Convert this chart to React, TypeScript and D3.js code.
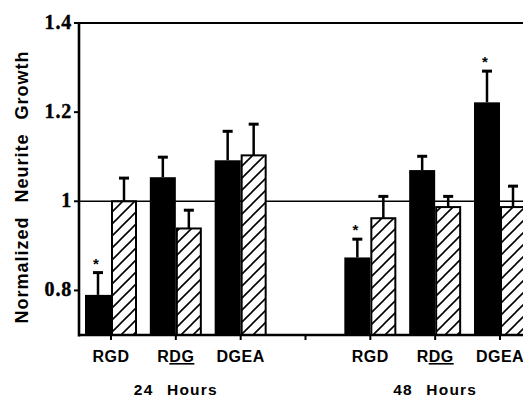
import React from 'react';
import * as d3 from 'd3';

const categories = ['RGD', 'RDG', 'DGEA'];
const groups = ['24 Hours', '48 Hours'];
const yTicks = [0.8, 1, 1.2, 1.4];

// solid bars
const solid24 = [0.79, 1.054, 1.092];
const solidErr24 = [0.05, 0.045, 0.065];
const solid48 = [0.874, 1.07, 1.222];
const solidErr48 = [0.041, 0.031, 0.07];

// hatched bars
const hatch24 = [1.0, 0.939, 1.103];
const hatchErr24 = [0.052, 0.041, 0.07];
const hatch48 = [0.962, 0.987, 0.987];
const hatchErr48 = [0.049, 0.024, 0.047];

// significance marks on solid bars
const starred24 = [true, false, false];
const starred48 = [true, false, true];

const W = 523;
const H = 397;

export default function App() {
  const left = 79;
  const top = 23;
  const base = 335;

  const slots = ['24-0', '24-1', '24-2', 'gap', '48-0', '48-1', '48-2'];
  const x = d3.scalePoint<string>().domain(slots).range([111, 500]);
  const y = d3.scaleLinear().domain([0.7, 1.4]).range([base, top]);
  const bw = 26;

  const bars: any[] = [];
  categories.forEach((c, i) => {
    bars.push({ key: '24-' + i, c, solid: solid24[i], se: solidErr24[i], hatch: hatch24[i], he: hatchErr24[i], star: starred24[i] });
    bars.push({ key: '48-' + i, c, solid: solid48[i], se: solidErr48[i], hatch: hatch48[i], he: hatchErr48[i], star: starred48[i] });
  });

  const errBar = (cx: number, v: number, e: number) => (
    <g stroke="#000" strokeWidth={2.5}>
      <line x1={cx} x2={cx} y1={y(v)} y2={y(v + e)} />
      <line x1={cx - 5} x2={cx + 5} y1={y(v + e)} y2={y(v + e)} strokeWidth={3} />
    </g>
  );

  const label = (c: string) => {
    if (c === 'RDG') {
      return (
        <>
          R<tspan textDecoration="underline">DG</tspan>
        </>
      );
    }
    return c;
  };

  return (
    <svg width={W} height={H} style={{ position: 'absolute', left: 0, top: 0, background: '#fff' }}>
      <defs>
        <pattern id="hatch" patternUnits="userSpaceOnUse" width={12} height={12}>
          <rect width={12} height={12} fill="#fff" />
          <path d="M-3,3 L3,-3 M0,12 L12,0 M9,15 L15,9" stroke="#000" strokeWidth={1.6} />
        </pattern>
      </defs>

      {/* reference lines */}
      <line x1={left} x2={W} y1={y(1.4)} y2={y(1.4)} stroke="#000" strokeWidth={2.2} />
      <line x1={left} x2={W} y1={y(1)} y2={y(1)} stroke="#000" strokeWidth={1.6} />

      {bars.map(b => {
        const cx = x(b.key)!;
        return (
          <g key={b.key}>
            <rect x={cx - bw} y={y(b.solid)} width={bw} height={base - y(b.solid)} fill="#000" />
            {errBar(cx - bw / 2, b.solid, b.se)}
            <rect x={cx + 1} y={y(b.hatch)} width={bw - 2} height={base - y(b.hatch)} fill="url(#hatch)" stroke="#000" strokeWidth={2} />
            {errBar(cx + bw / 2, b.hatch, b.he)}
            {b.star && (
              <text x={cx - bw / 2 - 2} y={y(b.solid + b.se) - 4} textAnchor="middle" fontFamily="Liberation Sans" fontWeight="bold" fontSize={15}>*</text>
            )}
          </g>
        );
      })}

      {/* axes */}
      <line x1={left} x2={left} y1={top - 1} y2={base + 1.5} stroke="#000" strokeWidth={2.6} />
      <line x1={left} x2={W} y1={base} y2={base} stroke="#000" strokeWidth={2.6} />
      {yTicks.map(t => (
        <g key={t}>
          <line x1={left - 5} x2={left} y1={y(t)} y2={y(t)} stroke="#000" strokeWidth={2} />
          <text x={72} y={y(t) + 6} textAnchor="end" fontFamily="Liberation Serif" fontWeight="bold" fontSize={20} letterSpacing={0.8} stroke="#000" strokeWidth={0.4}>{t === 1 ? '1' : t.toFixed(1)}</text>
        </g>
      ))}
      {slots.map(s => (
        <line key={s} x1={x(s)!} x2={x(s)!} y1={base} y2={base + 5} stroke="#000" strokeWidth={2} />
      ))}

      {bars.map(b => (
        <text key={'l' + b.key} x={x(b.key)!} y={362} textAnchor="middle" fontFamily="Liberation Sans" fontWeight="bold" fontSize={16} letterSpacing={0.5}>
          {label(b.c)}
        </text>
      ))}

      {groups.map((g, i) => (
        <text key={g} x={x(i === 0 ? '24-1' : '48-1')!} y={395} textAnchor="middle" fontFamily="Liberation Sans" fontWeight="bold" fontSize={15.5} letterSpacing={1.2} wordSpacing={8}>
          {g}
        </text>
      ))}

      <text transform={`translate(28,${187}) rotate(-90)`} textAnchor="middle" fontFamily="Liberation Sans" fontWeight="bold" fontSize={18} letterSpacing={1} wordSpacing={8}>
        Normalized Neurite Growth
      </text>
    </svg>
  );
}
